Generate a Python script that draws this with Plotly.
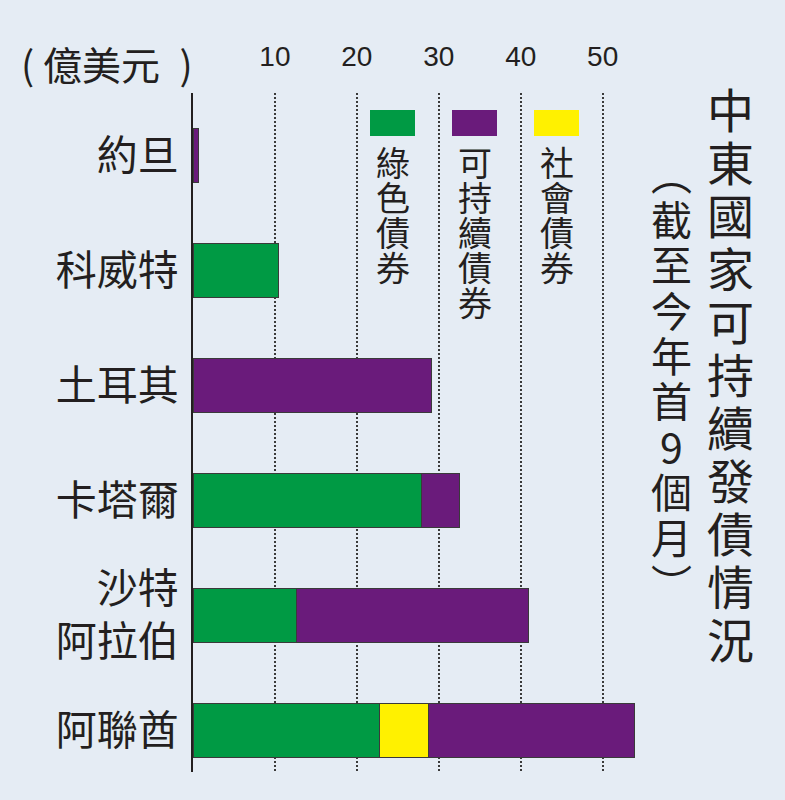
import plotly.graph_objects as go

# 中東國家可持續發債情況（億美元）
countries = ["約旦", "科威特", "土耳其", "卡塔爾", "沙特<br>阿拉伯", "阿聯酋"]
green_bonds = [None, 10.4, None, 27.9, 12.6, 22.8]
social_bonds = [None, None, None, None, None, 6.0]
sustain_bonds = [0.7, None, 29.1, 4.6, 28.4, 25.1]
x_ticks = [10, 20, 30, 40, 50]

GREEN = "#009a44"
PURPLE = "#6a1b7b"
YELLOW = "#fff100"
BG = "#e5ecf4"
INK = "#231f20"
CJK = "Noto Sans CJK TC"

W, H = 785, 800
L, R, T, B = 193, 125, 93, 28
pw, ph = W - L - R, H - T - B


def px(x):
    return (x - L) / pw


def py(y):
    return (H - B - y) / ph


fig = go.Figure()
for name, vals, col in [("綠色債券", green_bonds, GREEN),
                        ("社會債券", social_bonds, YELLOW),
                        ("可持續債券", sustain_bonds, PURPLE)]:
    fig.add_trace(go.Bar(y=countries, x=vals, orientation="h", name=name,
                         width=0.47,
                         marker=dict(color=col, line=dict(color="#3a3a3a", width=1))))

annots = []
shapes = []

# unit label
annots.append(dict(x=px(107), y=py(63), xref="paper", yref="paper",
                   text="( 億美元\u2002)", showarrow=False,
                   font=dict(family=CJK, size=39, color=INK),
                   xanchor="center", yanchor="middle"))

# legend: swatch + vertical text
legend_items = [("綠色債券", GREEN), ("可持續債券", PURPLE), ("社會債券", YELLOW)]
for i, (label, col) in enumerate(legend_items):
    cx = 392.5 + 82 * i
    shapes.append(dict(type="rect", xref="paper", yref="paper",
                       x0=px(cx - 22.5), x1=px(cx + 22.5), y0=py(136), y1=py(110),
                       fillcolor=col, line=dict(width=0)))
    for j, ch in enumerate(label):
        annots.append(dict(x=px(cx), y=py(161 + 35 * j), xref="paper", yref="paper",
                           text=ch, showarrow=False,
                           font=dict(family=CJK, size=34, color=INK),
                           xanchor="center", yanchor="middle"))

# vertical title and subtitle
for j, ch in enumerate("中東國家可持續發債情況"):
    annots.append(dict(x=px(730), y=py(107 + 53 * j), xref="paper", yref="paper",
                       text=ch, showarrow=False,
                       font=dict(family=CJK, size=47, color=INK),
                       xanchor="center", yanchor="middle"))
for j, ch in enumerate("︵截至今年首9個月︶"):
    annots.append(dict(x=px(671), y=py(172 + 45.5 * j), xref="paper", yref="paper",
                       text=ch, showarrow=False,
                       font=dict(family=CJK, size=41, color=INK),
                       xanchor="center", yanchor="middle"))

fig.update_layout(
    width=W, height=H,
    margin=dict(l=L, r=R, t=T, b=B, pad=0),
    paper_bgcolor=BG, plot_bgcolor=BG,
    barmode="stack", showlegend=False,
    annotations=annots, shapes=shapes,
    xaxis=dict(side="top", range=[0, 57], tickvals=x_ticks, ticks="",
               showgrid=True, gridcolor="#3a3a3a", griddash="2px,2px", gridwidth=1.5,
               zeroline=False, showline=False, ticklabelstandoff=20,
               tickfont=dict(family="Liberation Sans", size=28, color=INK)),
    yaxis=dict(categoryorder="array", categoryarray=countries,
               range=[5.362, -0.547], autorange=False,
               showline=True, linecolor=INK, linewidth=2, ticks="",
               showgrid=False, zeroline=False, ticklabelstandoff=4,
               tickfont=dict(family=CJK, size=41, color=INK)),
)

# drop the page's default body margin so the figure fills the window
fig.write_html("out.html", config={"displayModeBar": False},
               post_script="document.body.style.margin='0';"
                           "document.body.style.background='%s';" % BG)
